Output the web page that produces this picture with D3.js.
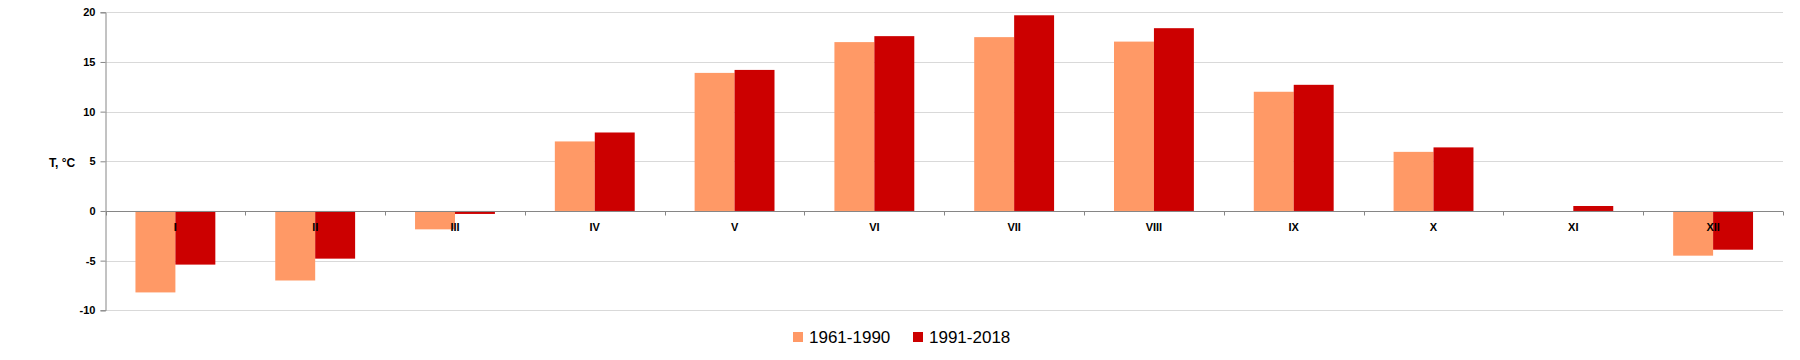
<!DOCTYPE html>
<html>
<head>
<meta charset="utf-8">
<script src="https://cdn.jsdelivr.net/npm/d3@7"></script>
<style>
  html, body { margin: 0; padding: 0; background: #fff; }
  svg { display: block; }
  text { font-family: "Liberation Sans", Arial, sans-serif; }
</style>
</head>
<body>
<svg id="chart" width="1800" height="360"></svg>
<script>
const categories = ["I", "II", "III", "IV", "V", "VI", "VII", "VIII", "IX", "X", "XI", "XII"];
const seriesNames = ["1961-1990", "1991-2018"];
const values1961 = [-8.2, -7.0, -1.85, 7.0, 13.9, 17.0, 17.5, 17.05, 12.0, 5.95, 0.0, -4.5];
const values1991 = [-5.4, -4.8, -0.3, 7.9, 14.2, 17.6, 19.7, 18.4, 12.7, 6.4, 0.5, -3.9];
const yTicks = [-10, -5, 0, 5, 10, 15, 20];
const colors = ["#FF9966", "#CC0000"];
const yLabel = "T, °C";

const svg = d3.select("#chart");
const plotLeft = 105.5, plotRight = 1783, plotTop = 12.3, plotBottom = 310.3;

const x = d3.scaleBand().domain(categories).range([plotLeft, plotRight]).paddingInner(0.4286).paddingOuter(0.2143);
const x1 = d3.scaleBand().domain(seriesNames).range([0, x.bandwidth()]);
const y = d3.scaleLinear().domain([-10, 20]).range([plotBottom, plotTop]);

// gridlines
svg.append("g").selectAll("line").data(yTicks.filter(d => d !== 0)).join("line")
  .attr("x1", plotLeft).attr("x2", plotRight)
  .attr("y1", d => Math.round(y(d)) + 0.5).attr("y2", d => Math.round(y(d)) + 0.5)
  .attr("stroke", "#d9d9d9").attr("stroke-width", 1);

// bars
const data = categories.map((c, i) => ({ cat: c, vals: [values1961[i], values1991[i]] }));
const groups = svg.append("g").selectAll("g").data(data).join("g")
  .attr("transform", d => `translate(${x(d.cat)},0)`);
groups.selectAll("rect").data(d => d.vals.map((v, j) => ({ v, s: seriesNames[j], j }))).join("rect")
  .attr("x", d => x1(d.s))
  .attr("width", x1.bandwidth())
  .attr("y", d => Math.min(y(d.v), y(0)))
  .attr("height", d => Math.abs(y(d.v) - y(0)))
  .attr("fill", d => colors[d.j]);

// y axis
const yAxis = d3.axisLeft(y).tickValues(yTicks).tickSize(5).tickPadding(5).tickFormat(d => String(d));
const gy = svg.append("g").attr("transform", `translate(${plotLeft},0)`).call(yAxis);
gy.select(".domain").attr("stroke", "#868686");
gy.selectAll(".tick line").attr("stroke", "#868686");
gy.selectAll(".tick text").attr("font-size", 11).attr("font-weight", "bold").attr("fill", "#000");

// zero axis with category boundary ticks
const zeroY = Math.round(y(0)) + 0.5;
svg.append("line").attr("x1", plotLeft).attr("x2", plotRight).attr("y1", zeroY).attr("y2", zeroY)
  .attr("stroke", "#868686").attr("stroke-width", 1);
const boundaries = d3.range(categories.length + 1).map(i => plotLeft + i * (plotRight - plotLeft) / categories.length);
svg.append("g").selectAll("line").data(boundaries).join("line")
  .attr("x1", d => Math.round(d) + 0.5).attr("x2", d => Math.round(d) + 0.5)
  .attr("y1", zeroY).attr("y2", zeroY + 4)
  .attr("stroke", "#868686");

// category labels
svg.append("g").selectAll("text").data(categories).join("text")
  .attr("x", d => x(d) + x.bandwidth() / 2)
  .attr("y", y(0) + 20)
  .attr("text-anchor", "middle")
  .attr("font-size", 11).attr("font-weight", "bold").attr("fill", "#000")
  .text(d => d);

// y label
svg.append("text").attr("x", 49).attr("y", 167).attr("font-size", 12).attr("font-weight", "bold")
  .attr("fill", "#000").text(yLabel);

// legend
const legend = svg.append("g");
const legendItems = [{ name: seriesNames[0], x: 793 }, { name: seriesNames[1], x: 913 }];
legendItems.forEach((it, i) => {
  legend.append("rect").attr("x", it.x).attr("y", 332).attr("width", 10).attr("height", 10).attr("fill", colors[i]);
  legend.append("text").attr("x", it.x + 16).attr("y", 343).attr("font-size", 17).attr("fill", "#000").text(it.name);
});
</script>
</body>
</html>
